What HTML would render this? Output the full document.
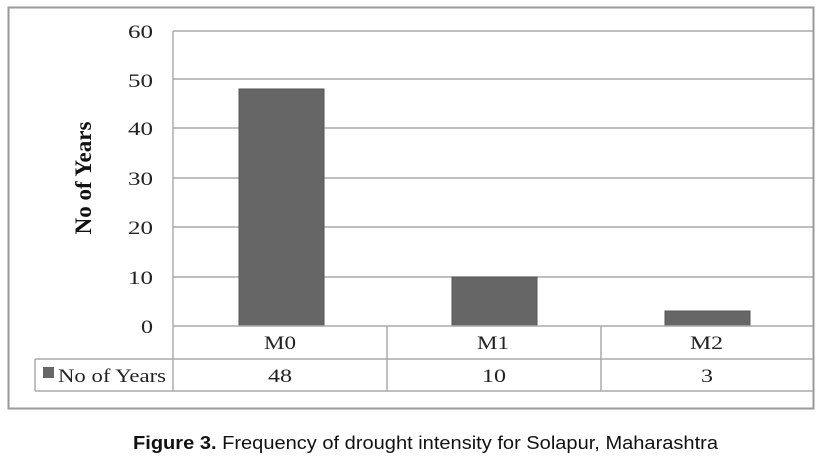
<!DOCTYPE html>
<html><head><style>
body{margin:0;background:#fff;}
svg text{font-family:"Liberation Serif",serif;}
</style></head><body>
<svg width="825" height="461" xmlns="http://www.w3.org/2000/svg">
<rect x="0" y="0" width="825" height="461" fill="#fff"/>
<rect x="8.5" y="7.5" width="805" height="401" fill="none" stroke="#999" stroke-width="2"/>
<g stroke="#999" stroke-width="1.2">
<line x1="173" y1="31" x2="813" y2="31"/>
<line x1="173" y1="79" x2="813" y2="79"/>
<line x1="173" y1="128" x2="813" y2="128"/>
<line x1="173" y1="178" x2="813" y2="178"/>
<line x1="173" y1="227" x2="813" y2="227"/>
<line x1="173" y1="277" x2="813" y2="277"/>
<line x1="173" y1="31" x2="173" y2="391"/>
</g>
<g fill="#666" stroke="#555" stroke-width="1">
<rect x="239" y="89" width="85" height="237"/>
<rect x="452" y="277" width="85" height="49"/>
<rect x="665" y="311" width="85" height="15"/>
</g>
<g stroke="#aaa" stroke-width="1.5">
<line x1="173" y1="326" x2="813" y2="326"/>
<line x1="35" y1="359" x2="813" y2="359"/>
<line x1="35" y1="391" x2="813" y2="391"/>
<line x1="35" y1="359" x2="35" y2="391"/>
<line x1="387" y1="326" x2="387" y2="391"/>
<line x1="601" y1="326" x2="601" y2="391"/>
</g>
<g font-size="19" fill="#222">
<text x="128" y="38" textLength="25" lengthAdjust="spacingAndGlyphs">60</text>
<text x="128" y="87" textLength="25" lengthAdjust="spacingAndGlyphs">50</text>
<text x="128" y="135" textLength="25" lengthAdjust="spacingAndGlyphs">40</text>
<text x="128" y="185" textLength="25" lengthAdjust="spacingAndGlyphs">30</text>
<text x="128" y="234" textLength="25" lengthAdjust="spacingAndGlyphs">20</text>
<text x="128" y="284" textLength="25" lengthAdjust="spacingAndGlyphs">10</text>
<text x="141" y="333" textLength="12" lengthAdjust="spacingAndGlyphs">0</text>
</g>
<text transform="translate(91,178) rotate(-90)" font-size="23" font-weight="bold" text-anchor="middle" fill="#111">No of Years</text>
<g font-size="19" fill="#222">
<text x="264" y="349" textLength="32" lengthAdjust="spacingAndGlyphs">M0</text>
<text x="477" y="349" textLength="32" lengthAdjust="spacingAndGlyphs">M1</text>
<text x="690" y="349" textLength="33" lengthAdjust="spacingAndGlyphs">M2</text>
<text x="268" y="382" textLength="24" lengthAdjust="spacingAndGlyphs">48</text>
<text x="482" y="382" textLength="24" lengthAdjust="spacingAndGlyphs">10</text>
<text x="701" y="382" textLength="12" lengthAdjust="spacingAndGlyphs">3</text>
</g>
<rect x="43" y="367" width="11" height="11" fill="#666"/>
<text x="58" y="382" font-size="19" fill="#222" textLength="108" lengthAdjust="spacingAndGlyphs">No of Years</text>
<text x="133" y="449" font-size="18" textLength="585" lengthAdjust="spacingAndGlyphs" style="font-family:'Liberation Sans',sans-serif" fill="#111"><tspan font-weight="bold">Figure 3.</tspan> Frequency of drought intensity for Solapur, Maharashtra</text>
</svg>
</body></html>
